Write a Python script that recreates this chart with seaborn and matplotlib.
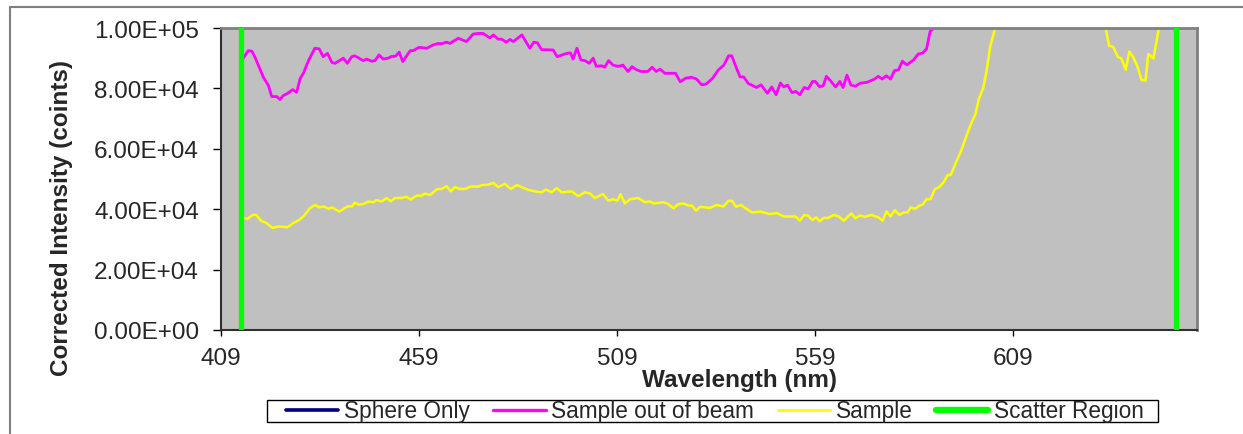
import matplotlib
matplotlib.use("Agg")
import matplotlib.pyplot as plt
import seaborn as sns
import pandas as pd
from matplotlib.patches import Rectangle
from matplotlib.ticker import FuncFormatter

# ---------------- data ----------------
series_names = ["Sphere Only", "Sample out of beam", "Sample", "Scatter Region"]

# Sphere Only: not visible inside the plotted range (legend entry only)
sphere_wl = []
sphere_int = []

beam_wl = [414.5, 415.9, 416.8, 417.6, 419.7, 421.0, 421.8, 423.1, 423.9, 424.7,
           426.0, 427.1, 428.1, 429.0, 429.8, 431.1, 432.7, 433.8, 434.8, 435.9,
           437.0, 437.8, 438.9, 439.9, 440.9, 442.0, 442.8, 444.9, 445.8, 447.0,
           447.9, 448.9, 450.0, 451.2, 452.1, 453.0, 454.0, 454.9, 456.8, 457.6,
           459.0, 461.0, 462.6, 463.9, 464.7, 466.0, 466.8, 468.9, 471.0, 472.7,
           474.0, 475.2, 476.9, 477.8, 479.0, 479.9, 481.0, 482.0, 482.8, 485.0,
           487.0, 488.0, 488.9, 490.0, 491.2, 492.9, 493.9, 495.4, 496.7, 497.3,
           497.9, 498.9, 499.9, 500.9, 502.0, 503.0, 503.8, 505.1, 505.9, 506.9,
           508.0, 509.3, 510.5, 511.8, 512.8, 513.9, 515.1, 516.8, 517.9, 518.9,
           519.9, 521.1, 522.7, 523.8, 525.0, 526.4, 527.8, 529.1, 530.4, 531.5,
           533.2, 534.6, 536.0, 537.2, 538.0, 539.1, 540.1, 541.0, 542.2, 544.3,
           545.4, 547.0, 548.1, 549.2, 550.3, 551.1, 552.1, 553.2, 554.2, 555.2,
           556.3, 557.3, 558.4, 559.1, 560.2, 561.1, 561.9, 562.9, 564.2, 565.3,
           566.1, 567.1, 568.1, 569.2, 570.4, 572.1, 573.8, 575.0, 576.0, 577.0,
           578.1, 579.1, 580.1, 581.1, 582.2, 583.9, 585.1, 586.2, 587.2, 588.1,
           589.3, 591.0, 594.0, 598.0, 603.0, 610.0, 620.0, 630.0, 640.0, 650.0]
beam_int = [89.7, 92.5, 92.3, 90.3, 83.7, 80.9, 77.3, 77.3, 76.3, 77.6,
            78.5, 79.6, 78.7, 83.3, 85.0, 89.2, 93.3, 93.1, 90.5, 91.6,
            88.6, 88.3, 89.2, 90.0, 88.3, 90.5, 90.8, 89.2, 89.7, 89.0,
            89.2, 91.1, 89.7, 90.0, 90.6, 90.6, 92.0, 88.9, 92.5, 92.5,
            93.6, 93.3, 94.4, 94.9, 94.8, 95.3, 94.9, 96.6, 95.5, 98.0,
            98.2, 98.2, 96.7, 97.7, 96.3, 96.3, 95.3, 96.2, 95.5, 97.7,
            93.3, 95.3, 95.1, 92.8, 92.8, 92.7, 90.5, 91.2, 91.7, 91.7,
            89.7, 93.3, 89.4, 89.2, 88.3, 90.0, 87.3, 87.5, 87.0, 89.2,
            87.7, 87.3, 87.7, 85.6, 87.2, 86.2, 85.6, 85.6, 87.0, 85.6,
            86.4, 85.0, 85.0, 85.0, 82.2, 83.4, 83.7, 83.1, 81.2, 81.4,
            83.4, 86.1, 87.7, 90.8, 90.8, 87.0, 83.8, 83.8, 81.6, 80.3,
            81.2, 78.4, 80.5, 77.9, 81.8, 80.5, 81.1, 78.6, 79.0, 77.9,
            80.3, 79.8, 82.3, 82.3, 80.5, 80.9, 84.0, 82.6, 80.5, 82.3,
            80.3, 84.4, 81.1, 80.7, 81.7, 82.0, 82.9, 84.0, 83.1, 84.2,
            83.1, 85.9, 86.1, 89.0, 87.8, 89.4, 91.4, 91.7, 93.1, 98.9,
            100.2, 104.0, 112.0, 125.0, 140.0, 155.0, 165.0, 160.0, 150.0, 145.0]

sample_wl = [414.5, 415.7, 417.0, 417.9, 419.1, 420.6, 422.0, 423.3, 424.7, 425.8,
             427.1, 428.7, 430.0, 431.5, 432.8, 433.8, 435.0, 436.1, 437.0, 438.9,
             440.9, 442.0, 442.8, 443.9, 444.9, 446.2, 447.4, 448.3, 449.6, 450.8,
             451.9, 452.9, 454.6, 455.9, 456.9, 458.4, 459.7, 460.5, 461.8, 463.6,
             464.7, 466.0, 467.0, 468.1, 469.3, 470.7, 472.0, 474.0, 475.0, 476.5,
             477.8, 479.0, 480.7, 482.2, 483.7, 485.0, 486.6, 488.3, 490.0, 491.0,
             492.5, 493.8, 495.0, 497.6, 499.2, 500.9, 502.2, 503.4, 505.5, 506.8,
             508.0, 509.1, 509.9, 511.0, 512.3, 514.4, 516.1, 517.2, 518.4, 520.7,
             521.7, 523.3, 524.5, 525.8, 527.1, 527.9, 529.0, 530.0, 532.5, 534.1,
             535.9, 537.2, 538.0, 539.1, 540.3, 543.1, 545.2, 547.6, 549.4, 551.1,
             554.1, 555.2, 556.3, 557.3, 558.4, 559.3, 560.2, 561.2, 562.3, 563.8,
             565.0, 566.3, 568.2, 569.2, 570.4, 571.6, 573.3, 575.0, 576.1, 577.1,
             578.1, 579.2, 580.3, 581.4, 582.4, 583.2, 584.3, 585.4, 586.2, 587.2,
             588.2, 589.3, 590.4, 591.5, 592.5, 593.3, 594.9, 595.9, 597.0, 598.3,
             599.5, 600.4, 601.5, 602.3, 603.3, 604.6, 607.0, 612.0, 618.0, 624.0,
             629.0, 632.4, 633.3, 634.3, 635.5, 636.4, 637.5, 638.4, 639.4, 640.4,
             641.5, 642.5, 643.2, 644.5, 645.9, 647.5, 649.0]
sample_int = [37.1, 36.8, 38.1, 38.1, 36.2, 35.3, 33.8, 34.2, 34.2, 34.0,
              35.3, 36.4, 37.9, 40.4, 41.4, 40.6, 40.9, 40.1, 40.6, 39.2,
              40.9, 40.9, 42.1, 41.5, 41.7, 42.5, 42.3, 43.0, 42.6, 43.7,
              42.6, 43.7, 43.7, 44.1, 43.2, 44.5, 44.5, 45.2, 44.7, 46.7,
              46.7, 47.6, 45.9, 47.3, 46.7, 46.7, 47.5, 47.5, 48.0, 48.1,
              48.7, 47.3, 48.4, 46.7, 48.0, 47.3, 46.4, 45.9, 45.6, 46.5,
              45.6, 47.0, 45.6, 45.9, 44.3, 45.6, 45.2, 43.7, 45.0, 42.8,
              43.3, 42.8, 45.0, 41.9, 43.3, 43.7, 42.3, 42.6, 41.9, 42.3,
              41.9, 40.3, 41.7, 41.9, 41.2, 41.2, 39.5, 40.8, 40.4, 41.4,
              40.9, 42.8, 42.8, 40.8, 41.4, 38.9, 39.2, 38.4, 38.7, 37.6,
              37.6, 36.2, 38.1, 37.8, 36.4, 37.3, 36.0, 37.1, 37.1, 38.1,
              37.6, 36.2, 38.6, 37.0, 37.9, 37.5, 38.1, 37.3, 36.2, 39.3,
              37.6, 39.7, 38.1, 38.9, 38.9, 40.6, 40.1, 41.2, 41.5, 43.3,
              43.3, 46.7, 47.3, 48.9, 51.3, 51.3, 56.3, 59.2, 63.3, 67.9,
              71.3, 76.5, 80.1, 85.3, 94.1, 100.2, 112.0, 125.0, 130.0, 125.0,
              110.0, 100.2, 94.1, 93.8, 90.5, 89.9, 86.2, 92.2, 90.3, 87.5,
              82.8, 82.6, 91.4, 89.9, 100.2, 108.0, 115.0]

scatter_wl = [414.0, 650.2]

x_ticks = [409, 459, 509, 559, 609]
y_ticks = [0, 20000, 40000, 60000, 80000, 100000]

# ---------------- figure ----------------
W, H = 1243, 435
fig = plt.figure(figsize=(W / 100, H / 100), dpi=100)
sns.set_style("white")
plt.rcParams["font.family"] = ["Liberation Sans", "DejaVu Sans"]

ax = fig.add_axes([221 / W, 1 - 331 / H, (1197 - 221) / W, (331 - 29) / H])
ax.set_facecolor("#C0C0C0")

beam_df = pd.DataFrame({"wl": beam_wl, "val": [v * 1000 for v in beam_int]})
sample_df = pd.DataFrame({"wl": sample_wl, "val": [v * 1000 for v in sample_int]})

ax.plot(sphere_wl, sphere_int, color="#000080", lw=2.2, label=series_names[0])
sns.lineplot(data=beam_df, x="wl", y="val", ax=ax, color="#FF00FF", lw=2.0,
             estimator=None, sort=False, label=series_names[1])
sns.lineplot(data=sample_df, x="wl", y="val", ax=ax, color="#FFFF00", lw=1.8,
             estimator=None, sort=False, label=series_names[2])
for i, xv in enumerate(scatter_wl):
    ax.axvline(xv, color="#00FF00", lw=3.8, label=series_names[3] if i == 0 else None,
               zorder=5)

ax.set_xlim(409, 655.5)
ax.set_ylim(0, 100000)
ax.set_xticks(x_ticks)
ax.set_xticklabels([str(t) for t in x_ticks])
ax.set_yticks(y_ticks)
ax.yaxis.set_major_formatter(FuncFormatter(lambda v, p: f"{v:.2E}"))
ax.tick_params(axis="both", labelsize=17.5, width=1, color="black",
               direction="out", bottom=True, left=True)
ax.tick_params(axis="x", length=4.5, pad=8)
ax.tick_params(axis="y", length=5.8, pad=10)

for side in ["top", "right"]:
    ax.spines[side].set_color("#808080")
    ax.spines[side].set_linewidth(2)
for side in ["left", "bottom"]:
    ax.spines[side].set_color("#303030")
    ax.spines[side].set_linewidth(1.5)

ax.set_xlabel("Wavelength (nm)", fontsize=17.5, fontweight="bold")
ax.set_ylabel("Corrected Intensity (coints)", fontsize=17.5, fontweight="bold")
ax.xaxis.set_label_coords((740 - 221) / 976, (331 - 381) / 302)
ax.xaxis.label.set_va("center")
ax.yaxis.set_label_coords((62 - 221) / 976, (331 - 218) / 302)
ax.yaxis.label.set_va("center")

if ax.get_legend():
    ax.get_legend().remove()
handles, labels = ax.get_legend_handles_labels()
leg = fig.legend(handles, labels, loc="center", ncol=4,
                 bbox_to_anchor=((267 + 1158) / 2 / W + 0.002, 1 - 412 / H),
                 frameon=False, fontsize=16.3, handlelength=2.3, handletextpad=0.25,
                 columnspacing=1.05, borderpad=0.0)
for lh in leg.get_lines():
    lh.set_linewidth(lh.get_linewidth() * 1.2)

# legend box
fig.patches.append(Rectangle((267 / W, 1 - 423 / H), (1158 - 267) / W, 22 / H,
                             transform=fig.transFigure, fill=False,
                             edgecolor="black", lw=1, zorder=0))

# outer chart-area border (cut off at right and bottom)
fig.patches.append(Rectangle((10 / W, -0.1), 1.2, 1 - 8 / H + 0.1,
                             transform=fig.transFigure, fill=False,
                             edgecolor="#808080", lw=1.5))

fig.savefig("out.png", dpi=100)
